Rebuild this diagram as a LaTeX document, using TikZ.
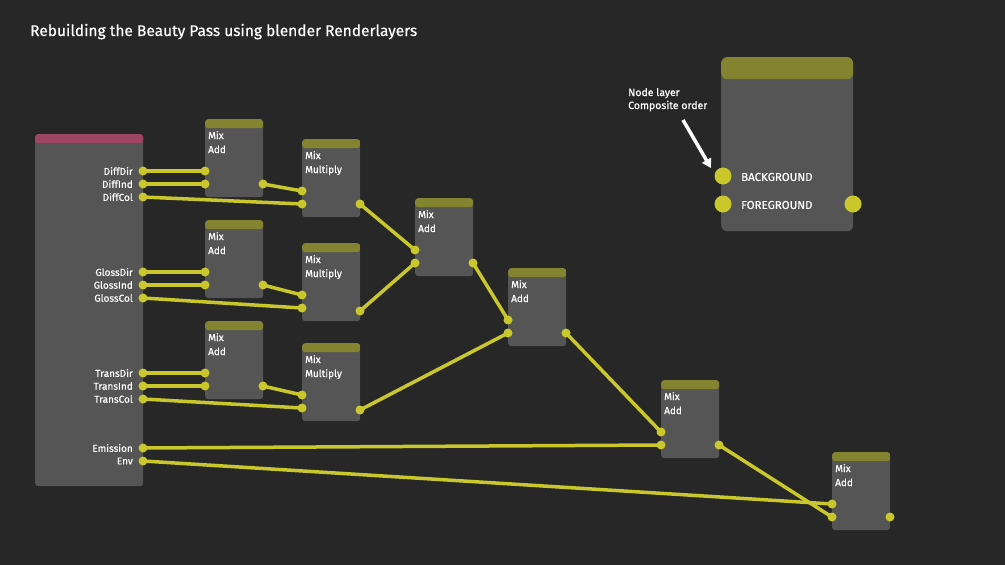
\documentclass[tikz,border=0pt]{standalone}
\usepackage{fontspec}
\setmainfont{Fira Sans}[FakeBold=0.5]
\usetikzlibrary{arrows.meta}
\definecolor{bgdark}{HTML}{272727}
\definecolor{nodegray}{HTML}{555555}
\definecolor{headolive}{HTML}{84832F}
\definecolor{headpink}{HTML}{9E4564}
\definecolor{wireyellow}{HTML}{C9C72B}

\begin{document}
\begin{tikzpicture}[
        x=1pt, y=-1pt,
        mixnode/.style={rectangle, rounded corners=3pt, fill=nodegray, minimum width=58pt, minimum height=78pt, anchor=north west, inner sep=0pt,
            path picture={\fill[headolive] (path picture bounding box.north west) rectangle ([yshift=-9pt]path picture bounding box.north east);}},
        socket/.style={circle, fill=wireyellow, minimum size=9pt, inner sep=0pt},
        bigsocket/.style={circle, fill=wireyellow, minimum size=17pt, inner sep=0pt},
        wire/.style={draw=wireyellow, line width=3.5pt},
        nodetext/.style={anchor=base west, align=left, inner sep=0pt, text=white, font={\fontsize{10}{14}\selectfont}},
        socklabel/.style={anchor=east, inner sep=0pt, text=white, font={\fontsize{10}{12}\selectfont}}
    ]

    % background
    \fill[bgdark] (0,0) rectangle (1005,565);

    % title
    \node[anchor=base west, inner sep=0pt, text=white, font={\fontsize{15.5}{18}\selectfont}] (title) at (30,36) {Rebuilding the Beauty Pass using blender Renderlayers};

    % ==========================================
    % 1. Render Layers node (left)
    % ==========================================
    \node[rectangle, rounded corners=3pt, fill=nodegray, minimum width=108pt, minimum height=352pt, anchor=north west, inner sep=0pt,
        path picture={\fill[headpink] (path picture bounding box.north west) rectangle ([yshift=-9pt]path picture bounding box.north east);}] (rl) at (35,134) {};
    \foreach \name/\y in {DiffDir/171, DiffInd/184, DiffCol/197, GlossDir/272, GlossInd/285, GlossCol/298,
                          TransDir/373, TransInd/386, TransCol/399, Emission/448, Env/461} {
        \node[socket] (rl\name) at (143,\y) {};
        \node[socklabel] at (133,\y) {\name};
    }

    % ==========================================
    % 2. Mix nodes
    % ==========================================
    \foreach \n/\x/\y/\op/\oy in {add1/205/119/Add/65, add2/205/220/Add/65, add3/205/321/Add/65,
                                  mul1/302/139/Multiply/65, mul2/302/243/Multiply/68, mul3/302/343/Multiply/67,
                                  add4/415/198/Add/65, add5/508/268/Add/65, add6/661/380/Add/65, add7/832/452/Add/65} {
        \node[mixnode] (\n) at (\x,\y) {};
        \node[nodetext] (\n-txt) at (\x+3,\y+34) {Mix\\\op};
        \node[socket] (\n-in1) at (\x,\y+52) {};
        \node[socket] (\n-in2) at (\x,\y+65) {};
        \node[socket] (\n-out) at (\x+58,\y+\oy) {};
    }

    % ==========================================
    % 3. Composite node (top right)
    % ==========================================
    \node[rectangle, rounded corners=6pt, fill=nodegray, minimum width=132pt, minimum height=174pt, anchor=north west, inner sep=0pt,
        path picture={\fill[headolive] (path picture bounding box.north west) rectangle ([yshift=-22pt]path picture bounding box.north east);}] (comp) at (721,57) {};
    \node[bigsocket] (comp-bg) at (723,176) {};
    \node[bigsocket] (comp-fg) at (723,204) {};
    \node[bigsocket] (comp-out) at (853,204) {};
    \node[anchor=west, inner sep=0pt, text=white, font={\fontsize{11.5}{13}\selectfont}] at (741,177) {BACKGROUND};
    \node[anchor=west, inner sep=0pt, text=white, font={\fontsize{11.5}{13}\selectfont}] at (741,205) {FOREGROUND};

    % note + arrow
    \node[anchor=base west, align=left, inner sep=0pt, text=white, font={\fontsize{10.5}{13}\selectfont}] (note) at (628,109) {Node layer\\Composite order};
    \coordinate (arrstart) at (683,120);
    \coordinate (arrtip) at (711,168);
    \draw[white, line width=3.5pt, -{Triangle[length=9pt, width=10pt]}] (arrstart) -- (arrtip);

    % ==========================================
    % 4. Wires
    % ==========================================
    \draw[wire] (rlDiffDir.center) -- (add1-in1.center);
    \draw[wire] (rlDiffInd.center) -- (add1-in2.center);
    \draw[wire] (rlDiffCol.center) -- (mul1-in2.center);
    \draw[wire] (add1-out.center) -- (mul1-in1.center);

    \draw[wire] (rlGlossDir.center) -- (add2-in1.center);
    \draw[wire] (rlGlossInd.center) -- (add2-in2.center);
    \draw[wire] (rlGlossCol.center) -- (mul2-in2.center);
    \draw[wire] (add2-out.center) -- (mul2-in1.center);

    \draw[wire] (rlTransDir.center) -- (add3-in1.center);
    \draw[wire] (rlTransInd.center) -- (add3-in2.center);
    \draw[wire] (rlTransCol.center) -- (mul3-in2.center);
    \draw[wire] (add3-out.center) -- (mul3-in1.center);

    \draw[wire] (mul1-out.center) -- (add4-in1.center);
    \draw[wire] (mul2-out.center) -- (add4-in2.center);
    \draw[wire] (add4-out.center) -- (add5-in1.center);
    \draw[wire] (mul3-out.center) -- (add5-in2.center);
    \draw[wire] (add5-out.center) -- (add6-in1.center);
    \draw[wire] (rlEmission.center) -- (add6-in2.center);
    \draw[wire] (rlEnv.center) -- (add7-in1.center);
    \draw[wire] (add6-out.center) -- (add7-in2.center);

\end{tikzpicture}
\end{document}
